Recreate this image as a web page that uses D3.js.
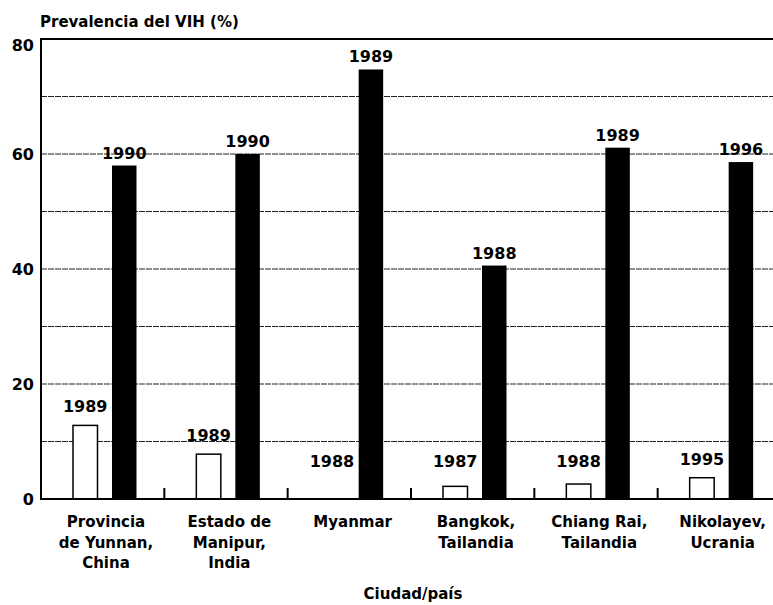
<!DOCTYPE html>
<html>
<head>
<meta charset="utf-8">
<script src="https://cdn.jsdelivr.net/npm/d3@7"></script>
<style>
  html, body { margin: 0; padding: 0; background: #fff; }
  svg { display: block; }
  text { font-family: "DejaVu Sans", sans-serif; font-weight: bold; fill: #000; }
</style>
</head>
<body>
<svg id="chart" width="773" height="605"></svg>
<script>
// ---- Data ----
const categories = [
  "Provincia\nde Yunnan,\nChina",
  "Estado de\nManipur,\nIndia",
  "Myanmar",
  "Bangkok,\nTailandia",
  "Chiang Rai,\nTailandia",
  "Nikolayev,\nUcrania"
];
const earlyValues = [12.8, 7.8, 0, 2.2, 2.6, 3.7];
const lateValues  = [58, 60, 74.7, 40.6, 61.1, 58.6];
const earlyYears = ["1989", "1989", "1988", "1987", "1988", "1995"];
const lateYears  = ["1990", "1990", "1989", "1988", "1989", "1996"];
const yTicks = [0, 20, 40, 60, 80];
const gridValues = [10, 20, 30, 40, 50, 60, 70];
const yTitle = "Prevalencia del VIH (%)";
const xTitle = "Ciudad/país";

// ---- Layout ----
const svg = d3.select("#chart");
const x = d3.scaleBand().domain(categories).range([41, 781]).padding(0);
const inner = d3.scaleBand().domain(["early", "late"]).range([32, 95.5]).paddingInner(0.372).paddingOuter(0);
const y = d3.scaleLinear().domain([0, 80]).range([499, 39]);

// gridlines
svg.append("g").selectAll("line").data(gridValues).join("line")
  .attr("x1", 41).attr("x2", 773)
  .attr("y1", d => y(d)).attr("y2", d => y(d))
  .attr("stroke", "#222").attr("stroke-width", 1)
  .attr("stroke-dasharray", "6,1");

// top border
svg.append("line").attr("x1", 41).attr("x2", 773).attr("y1", y(80)).attr("y2", y(80))
  .attr("stroke", "#000").attr("stroke-width", 2);

// bars
const groups = svg.append("g").selectAll("g").data(categories).join("g")
  .attr("transform", d => `translate(${x(d)},0)`);

groups.append("rect")
  .attr("x", inner("early"))
  .attr("width", inner.bandwidth())
  .attr("y", (d, i) => y(earlyValues[i]))
  .attr("height", (d, i) => y(0) - y(earlyValues[i]))
  .attr("fill", "#fff").attr("stroke", "#000").attr("stroke-width", 1.5);

groups.append("rect")
  .attr("x", inner("late"))
  .attr("width", inner.bandwidth())
  .attr("y", (d, i) => y(lateValues[i]))
  .attr("height", (d, i) => y(0) - y(lateValues[i]))
  .attr("fill", "#000");

// year labels
groups.append("text")
  .attr("x", inner("early") + inner.bandwidth() / 2)
  .attr("y", (d, i) => Math.min(y(earlyValues[i]) - 13, y(5.5)))
  .attr("text-anchor", "middle").attr("font-size", 16)
  .text((d, i) => earlyYears[i]);

groups.append("text")
  .attr("x", inner("late") + inner.bandwidth() / 2)
  .attr("y", (d, i) => y(lateValues[i]) - 7)
  .attr("text-anchor", "middle").attr("font-size", 16)
  .text((d, i) => lateYears[i]);

// group separator ticks
svg.append("g").selectAll("line").data(categories.slice(1)).join("line")
  .attr("x1", d => x(d)).attr("x2", d => x(d))
  .attr("y1", y(0)).attr("y2", y(0) - 11)
  .attr("stroke", "#000").attr("stroke-width", 2);

// axes lines
svg.append("line").attr("x1", 41).attr("x2", 773).attr("y1", y(0)).attr("y2", y(0))
  .attr("stroke", "#000").attr("stroke-width", 2);
svg.append("line").attr("x1", 41).attr("x2", 41).attr("y1", y(80) - 1).attr("y2", y(0) + 1)
  .attr("stroke", "#000").attr("stroke-width", 2);

// y tick labels
svg.append("g").selectAll("text").data(yTicks).join("text")
  .attr("x", 34).attr("y", d => y(d))
  .attr("dy", d => d === 80 ? "0.72em" : "0.36em")
  .attr("text-anchor", "end").attr("font-size", 16)
  .text(d => d);

// x category labels
const xl = svg.append("g").selectAll("text").data(categories).join("text")
  .attr("text-anchor", "middle").attr("font-size", 15)
  .attr("transform", d => `translate(${x(d) + 65},527)`);
xl.selectAll("tspan").data(d => d.split("\n")).join("tspan")
  .attr("x", 0).attr("y", (d, i) => i * 20.5)
  .text(d => d);

// titles
svg.append("text").attr("x", 40).attr("y", 27).attr("font-size", 15).text(yTitle);
svg.append("text").attr("x", 413).attr("y", 599).attr("text-anchor", "middle").attr("font-size", 15).text(xTitle);
</script>
</body>
</html>
